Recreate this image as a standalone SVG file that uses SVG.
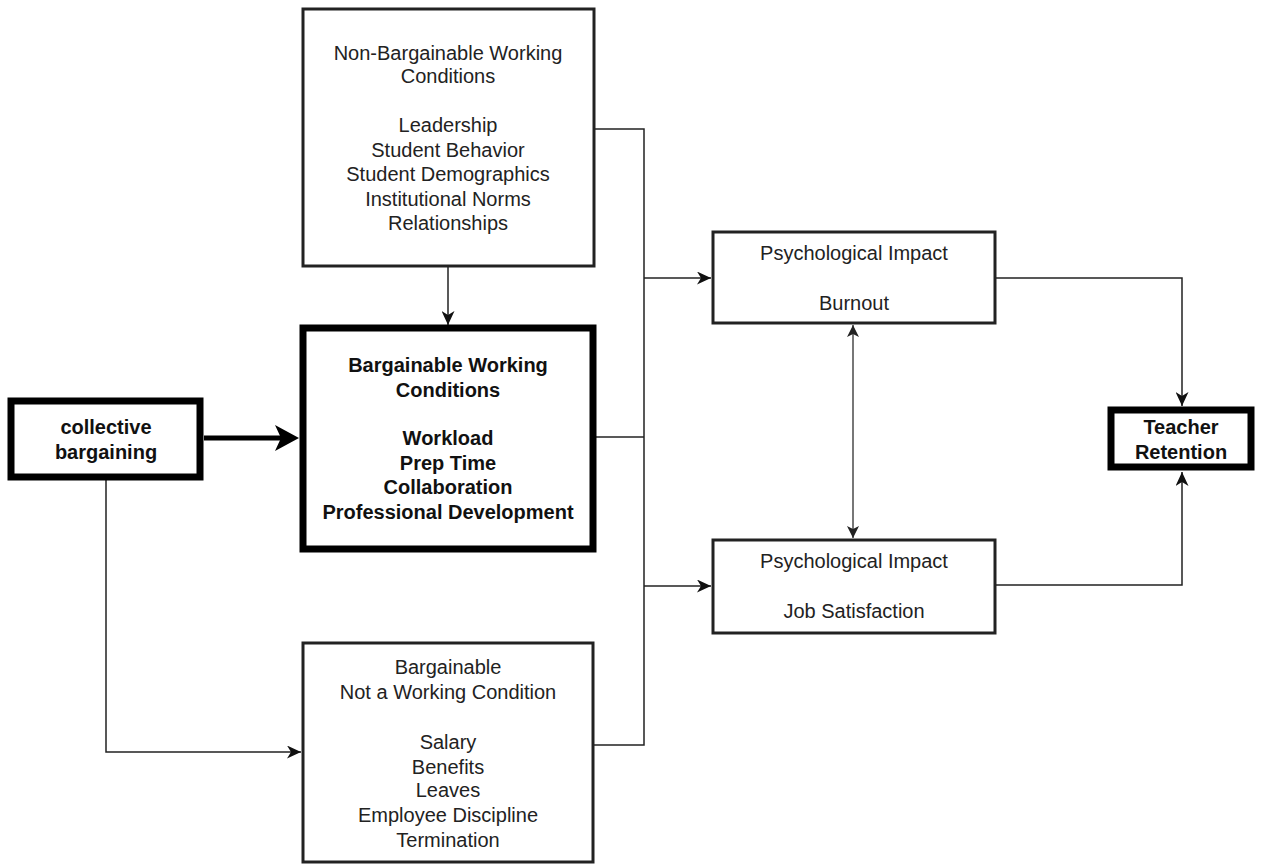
<svg xmlns="http://www.w3.org/2000/svg" width="1262" height="865" viewBox="0 0 1262 865">
<style>
.box{fill:#fff;stroke:#222;stroke-width:3}
.thick{fill:#fff;stroke:#000;stroke-width:7}
.t{font-family:"Liberation Sans",Arial,sans-serif;font-size:20px;fill:#222;text-anchor:middle}
.b{font-weight:bold;fill:#111}
.c{fill:none;stroke:#222;stroke-width:1.5}
</style>
<defs>
<marker id="a" markerUnits="userSpaceOnUse" markerWidth="14" markerHeight="13" viewBox="0 0 14 13" refX="14" refY="6.5" orient="auto-start-reverse"><path d="M0,0 L14,6.5 L0,13 L4,6.5 Z" fill="#111"/></marker>
<marker id="ag" markerUnits="userSpaceOnUse" markerWidth="12" markerHeight="12" viewBox="0 0 12 12" refX="12" refY="6" orient="auto-start-reverse"><path d="M0,0 L12,6 L0,12 L3,6 Z" fill="#222"/></marker>
<marker id="A" markerUnits="userSpaceOnUse" markerWidth="24" markerHeight="26" viewBox="0 0 24 26" refX="6" refY="13" orient="auto"><path d="M0,0 L24,13 L0,26 L6,13 Z" fill="#000"/></marker>
</defs>
<g id="connectors">
<path class="c" d="M594,129 H644 V745 H594"/>
<path class="c" d="M593,437 H644"/>
<path class="c" d="M644,278 H711" marker-end="url(#a)"/>
<path class="c" d="M644,586 H711" marker-end="url(#a)"/>
<path class="c" d="M448,266 V325" marker-end="url(#a)"/>
<path class="c" d="M106,480 V752 H301" marker-end="url(#a)"/>
<path d="M204,438 H281" fill="none" stroke="#000" stroke-width="5" marker-end="url(#A)"/>
<path d="M853,325 V538" fill="none" stroke="#777" stroke-width="2" marker-start="url(#ag)" marker-end="url(#ag)"/>
<path class="c" d="M995,278 H1182 V406" marker-end="url(#a)"/>
<path class="c" d="M995,585 H1182 V472" marker-end="url(#a)"/>
</g>
<g id="nonbargainable">
<rect class="box" x="303" y="9" width="291" height="257"/>
<text class="t" x="448" y="60">Non-Bargainable Working</text>
<text class="t" x="448" y="83">Conditions</text>
<text class="t" x="448" y="132">Leadership</text>
<text class="t" x="448" y="157">Student Behavior</text>
<text class="t" x="448" y="181">Student Demographics</text>
<text class="t" x="448" y="206">Institutional Norms</text>
<text class="t" x="448" y="230">Relationships</text>
</g>
<g id="bargainable">
<rect class="thick" x="303" y="328" width="290" height="221"/>
<text class="t b" x="448" y="372">Bargainable Working</text>
<text class="t b" x="448" y="397">Conditions</text>
<text class="t b" x="448" y="445">Workload</text>
<text class="t b" x="448" y="470">Prep Time</text>
<text class="t b" x="448" y="494">Collaboration</text>
<text class="t b" x="448" y="519">Professional Development</text>
</g>
<g id="collective">
<rect class="thick" x="11" y="401" width="189" height="76"/>
<text class="t b" x="106" y="434">collective</text>
<text class="t b" x="106" y="459">bargaining</text>
</g>
<g id="notworking">
<rect class="box" x="303" y="643" width="290" height="219"/>
<text class="t" x="448" y="674">Bargainable</text>
<text class="t" x="448" y="699">Not a Working Condition</text>
<text class="t" x="448" y="749">Salary</text>
<text class="t" x="448" y="774">Benefits</text>
<text class="t" x="448" y="797">Leaves</text>
<text class="t" x="448" y="822">Employee Discipline</text>
<text class="t" x="448" y="847">Termination</text>
</g>
<g id="burnout">
<rect class="box" x="713" y="232" width="282" height="91"/>
<text class="t" x="854" y="260">Psychological Impact</text>
<text class="t" x="854" y="310">Burnout</text>
</g>
<g id="satisfaction">
<rect class="box" x="713" y="540" width="282" height="93"/>
<text class="t" x="854" y="568">Psychological Impact</text>
<text class="t" x="854" y="618">Job Satisfaction</text>
</g>
<g id="retention">
<rect class="thick" x="1111" y="410" width="140" height="57"/>
<text class="t b" x="1181" y="434">Teacher</text>
<text class="t b" x="1181" y="459">Retention</text>
</g>
</svg>
